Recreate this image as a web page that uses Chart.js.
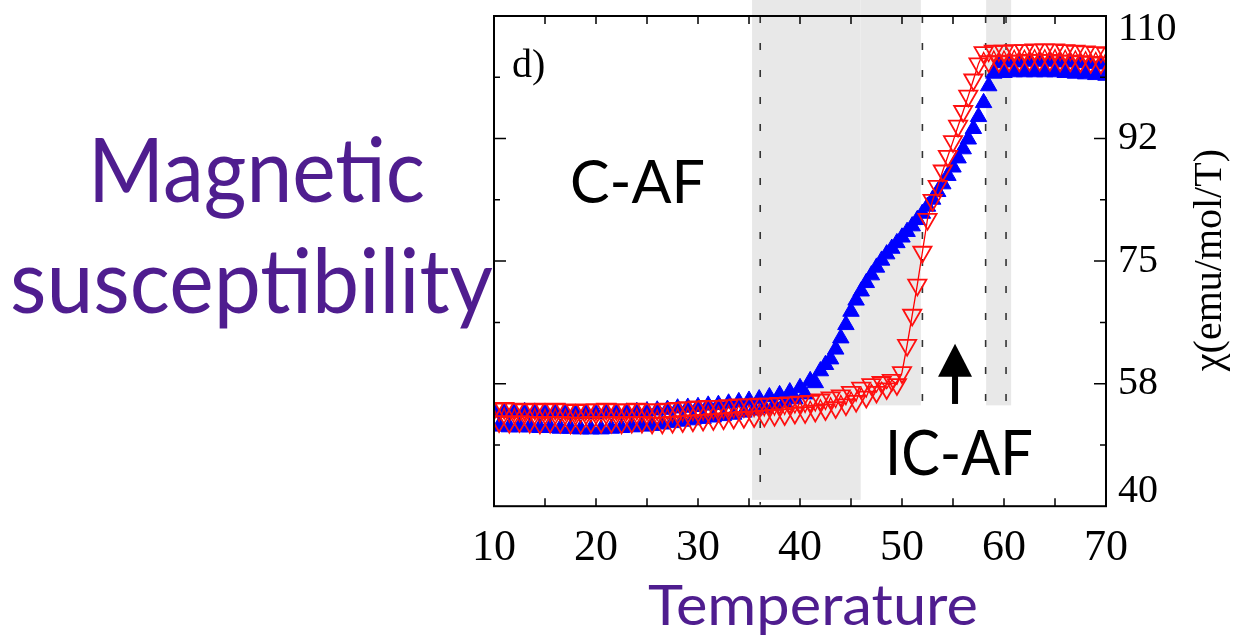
<!DOCTYPE html>
<html>
<head>
<meta charset="utf-8">
<script src="https://cdn.jsdelivr.net/npm/chart.js@4"></script>
<style>
  body { margin: 0; background: #fff; }
  canvas { display: block; }
</style>
</head>
<body>
<canvas id="chi" width="1240" height="642"></canvas>
<script>
// temperature (K)
const temps = [
  10, 10.5, 11, 11.5, 12, 12.5, 13, 13.5, 14, 14.5, 15, 15.5, 16, 16.5, 17, 17.5, 18, 18.5, 19, 19.5,
  20, 20.5, 21, 21.5, 22, 22.5, 23, 23.5, 24, 24.5, 25, 25.5, 26, 26.5, 27, 27.5, 28, 28.5, 29, 29.5,
  30, 30.5, 31, 31.5, 32, 32.5, 33, 33.5, 34, 34.5, 35, 35.5, 36, 36.5, 37, 37.5, 38, 38.5, 39, 39.5,
  40, 40.5, 41, 41.5, 42, 42.5, 43, 43.5, 44, 44.5, 45, 45.5, 46, 46.5, 47, 47.5, 48, 48.5, 49, 49.5,
  50, 50.5, 51, 51.5, 52, 52.5, 53, 53.5, 54, 54.5, 55, 55.5, 56, 56.5, 57, 57.5, 58, 58.5, 59, 59.5,
  60, 60.5, 61, 61.5, 62, 62.5, 63, 63.5, 64, 64.5, 65, 65.5, 66, 66.5, 67, 67.5, 68, 68.5, 69, 69.5,
  70
];

// chi, filled blue triangles (two interleaved runs where the band is doubled)
const chiBlue = [
  53.5, 51.4, 53.4, 51.3, 53.4, 51.3, 53.5, 51.3, 53.4, 51.2, 53.3, 51.2, 53.3, 51.1, 53.3, 51.1, 53.2, 51.0, 53.2, 51.0,
  53.2, 51.0, 53.3, 51.1, 53.3, 51.2, 53.4, 51.3, 53.5, 51.4, 53.6, 51.5, 53.7, 51.7, 53.8, 51.9, 54.0, 52.1, 54.1, 52.3,
  54.2, 52.5, 54.4, 52.7, 54.5, 52.9, 54.7, 53.1, 54.9, 53.4, 55.1, 53.7, 55.3, 54.0, 55.6, 54.4, 55.9, 54.8, 56.3, 55.3,
  56.9, 56.0, 57.9, 57.6, 59.3, 60.2, 61.0, 62.4, 64.0, 65.9, 67.8, 69.4, 70.7, 71.9, 73.0, 74.1, 75.1, 76.0, 76.8, 77.6,
  78.4, 79.2, 80.0, 80.9, 81.8, 82.8, 83.8, 84.9, 86.0, 87.2, 88.4, 89.7, 91.0, 92.4, 93.9, 95.6, 97.6, 100.0, 101.8, 103.3,
  101.9, 103.4, 102.0, 103.4, 102.0, 103.5, 102.0, 103.5, 102.0, 103.5, 102.0, 103.4, 101.9, 103.4, 101.8, 103.3, 101.7, 103.2, 101.6, 103.1,
  101.5
];

// chi, open red triangles
const chiRed = [
  53.9, 52.1, 54.0, 52.0, 53.9, 52.1, 53.8, 52.0, 53.9, 51.9, 53.8, 52.0, 53.9, 52.0, 53.8, 51.9, 53.7, 51.9, 53.8, 52.0,
  53.8, 52.0, 53.9, 52.0, 53.8, 51.9, 53.8, 52.0, 53.9, 52.0, 53.8, 51.9, 53.8, 51.9, 53.9, 52.0, 54.0, 52.1, 54.1, 52.2,
  54.2, 52.3, 54.3, 52.4, 54.3, 52.5, 54.4, 52.6, 54.5, 52.7, 54.5, 52.8, 54.6, 52.9, 54.6, 53.0, 54.7, 53.1, 54.8, 53.3,
  54.9, 53.4, 55.0, 53.6, 55.2, 53.8, 55.5, 54.1, 55.8, 54.5, 56.3, 55.0, 56.9, 55.6, 57.4, 56.3, 57.7, 56.8, 58.0, 57.4,
  59.1, 63.0, 67.3, 71.6, 76.3, 81.0, 83.7, 85.7, 87.9, 90.0, 92.1, 94.3, 96.4, 98.6, 100.9, 103.2, 104.8, 103.5, 105.0, 103.5,
  105.0, 103.6, 105.1, 103.6, 105.1, 103.7, 105.2, 103.7, 105.2, 103.7, 105.2, 103.6, 105.1, 103.6, 105.0, 103.5, 104.9, 103.4, 104.8, 103.3,
  104.7
];

// axis ticks
const xTickStep = 10;
const xMinorStep = 5;
const yTickValues = [40, 48.75, 57.5, 66.25, 75, 83.75, 92.5, 101.25, 110];
const yTickLabels = ['40', '', '58', '', '75', '', '92', '', '110'];

// shaded regions: [T from, T to, chi bottom]  (they run up past the top of the frame)
const shadedBands = [
  [35.3, 45.95, 40.9],
  [45.95, 51.85, 54.4],
  [58.25, 60.7, 54.4]
];
const bandTop = 112.4;
// dashed guide lines: [T, chi bottom]
const guideLines = [[36.1, 40.2], [52.0, 54.8], [58.2, 54.8], [60.2, 54.8]];
// arrow at [T, chi from, chi to]
const arrow = [55.2, 54.6, 63.2];

const purple = '#4f1d8f';

function fitText(ctx, text, x, y, size, width) {
  ctx.font = size + 'px Lato';
  const w = ctx.measureText(text).width;
  ctx.save();
  ctx.translate(x, y);
  ctx.scale(width / w, 1);
  ctx.fillText(text, 0, 0);
  ctx.restore();
}

const decorPlugin = {
  id: 'decor',
  beforeDatasetsDraw(chart) {
    const { ctx, scales: { x, y } } = chart;
    ctx.save();
    ctx.fillStyle = '#e8e8e8';
    shadedBands.forEach(b => {
      const x0 = x.getPixelForValue(b[0]), x1 = x.getPixelForValue(b[1]);
      const y0 = y.getPixelForValue(bandTop), y1 = y.getPixelForValue(b[2]);
      ctx.fillRect(x0, y0, x1 - x0, y1 - y0);
    });
    ctx.strokeStyle = '#333';
    ctx.lineWidth = 1.6;
    ctx.setLineDash([7, 20]);
    guideLines.forEach(g => {
      const px = x.getPixelForValue(g[0]);
      ctx.beginPath();
      ctx.moveTo(px, chart.chartArea.top);
      ctx.lineTo(px, y.getPixelForValue(g[1]));
      ctx.stroke();
    });
    ctx.restore();
  },
  afterDatasetsDraw(chart) {
    const { ctx, chartArea: a, scales: { x, y } } = chart;
    ctx.save();
    // frame
    ctx.strokeStyle = '#000';
    ctx.lineWidth = 2;
    ctx.strokeRect(a.left, a.top, a.right - a.left, a.bottom - a.top);
    // x ticks, top and bottom, pointing in
    ctx.lineWidth = 1.5;
    ctx.beginPath();
    for (let t = x.min + xMinorStep; t < x.max; t += xMinorStep) {
      const px = x.getPixelForValue(t);
      ctx.moveTo(px, a.bottom); ctx.lineTo(px, a.bottom - 8);
      ctx.moveTo(px, a.top); ctx.lineTo(px, a.top + 8);
    }
    // y ticks, left and right
    yTickValues.forEach((v, i) => {
      if (i === 0 || i === yTickValues.length - 1) return;
      const py = y.getPixelForValue(v);
      const len = yTickLabels[i] ? 12 : 6;
      ctx.moveTo(a.left, py); ctx.lineTo(a.left + len, py);
      ctx.moveTo(a.right, py); ctx.lineTo(a.right - len, py);
    });
    ctx.stroke();

    // y tick labels on the right
    ctx.fillStyle = '#000';
    ctx.font = '40px "Liberation Serif"';
    ctx.textAlign = 'left';
    ctx.textBaseline = 'middle';
    yTickValues.forEach((v, i) => {
      if (!yTickLabels[i]) return;
      const py = Math.min(Math.max(y.getPixelForValue(v), a.top + 13), a.bottom - 15);
      ctx.fillText(yTickLabels[i], a.right + 12, py);
    });
    // y title
    ctx.save();
    ctx.translate(a.right + 104, (a.top + a.bottom) / 2 - 1);
    ctx.rotate(-Math.PI / 2);
    ctx.textAlign = 'center';
    ctx.font = '40px "Liberation Serif"';
    ctx.fillText('χ(emu/mol/T)', 0, 0);
    ctx.restore();

    // panel letter
    ctx.textBaseline = 'alphabetic';
    ctx.font = '40px "Liberation Serif"';
    ctx.fillText('d)', a.left + 18, a.top + 61);

    // phase labels
    ctx.fillStyle = '#000';
    fitText(ctx, 'C-AF', 570, 203, 60, 135);
    fitText(ctx, 'IC-AF', 885, 475, 62, 148);

    // left side title and x title
    ctx.fillStyle = purple;
    fitText(ctx, 'Magnetic', 88, 202, 90, 337);
    fitText(ctx, 'susceptibility', 10, 313, 89, 483);
    fitText(ctx, 'Temperature', 648, 625, 56, 330);

    // arrow
    const ax = x.getPixelForValue(arrow[0]);
    const ay0 = y.getPixelForValue(arrow[1]);
    const ay1 = y.getPixelForValue(arrow[2]);
    ctx.fillStyle = '#000';
    ctx.fillRect(ax - 3, ay1 + 30, 6, ay0 - ay1 - 30);
    ctx.beginPath();
    ctx.moveTo(ax, ay1);
    ctx.lineTo(ax + 17, ay1 + 33);
    ctx.lineTo(ax - 17, ay1 + 33);
    ctx.closePath();
    ctx.fill();
    ctx.restore();
  }
};

const ctx = document.getElementById('chi').getContext('2d');
new Chart(ctx, {
  type: 'scatter',
  data: {
    datasets: [
      {
        label: 'red',
        data: temps.map((t, i) => ({ x: t, y: chiRed[i] })),
        showLine: true,
        borderColor: '#ff0000',
        borderWidth: 1.3,
        pointStyle: 'triangle',
        rotation: 180,
        pointRadius: 10.5,
        pointBorderWidth: 1.8,
        pointBorderColor: '#ff1010',
        pointBackgroundColor: 'rgba(255,255,255,0)',
        order: 0
      },
      {
        label: 'blue',
        data: temps.map((t, i) => ({ x: t, y: chiBlue[i] })),
        showLine: false,
        pointStyle: 'triangle',
        pointRadius: 9.5,
        pointBorderWidth: 1,
        pointBorderColor: '#0000ff',
        pointBackgroundColor: '#0000ff',
        order: 1
      }
    ]
  },
  options: {
    responsive: false,
    animation: false,
    layout: { padding: { left: 494, right: 134, top: 16, bottom: 51 } },
    plugins: { legend: { display: false }, tooltip: { enabled: false } },
    scales: {
      x: {
        type: 'linear',
        min: 10,
        max: 70,
        grid: { display: false, drawTicks: false },
        border: { display: false },
        ticks: {
          stepSize: xTickStep,
          autoSkip: false,
          maxRotation: 0,
          padding: 16,
          color: '#000',
          font: { family: 'Liberation Serif', size: 44 }
        }
      },
      y: { display: false, min: 40, max: 110 }
    }
  },
  plugins: [decorPlugin]
});
</script>
</body>
</html>
